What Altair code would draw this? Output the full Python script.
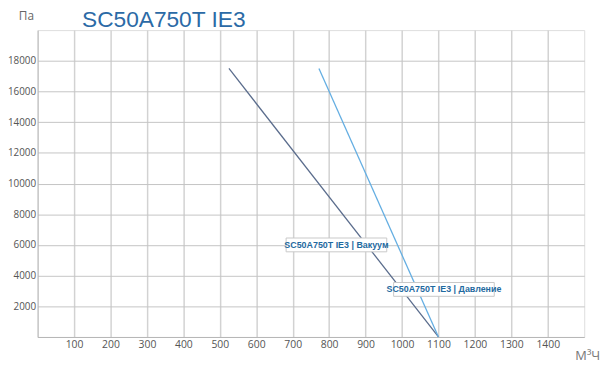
import altair as alt
import pandas as pd

# data
vac_x = [525, 1100]
vac_y = [17500, 0]
prs_x = [772, 1100]
prs_y = [17500, 0]
series_names = ["SC50A750T IE3 | Вакуум", "SC50A750T IE3 | Давление"]
label_x = [820, 1115]
label_y = [6000, 3100]
x_ticks = list(range(100, 1500, 100))
y_ticks = list(range(2000, 20000, 2000))
title_text = "SC50A750T IE3"
y_unit = "Па"
x_unit = "М³Ч"

colors = ["#5a6c8c", "#64aee2"]

df = pd.DataFrame(
    {"x": vac_x + prs_x,
     "y": vac_y + prs_y,
     "s": [series_names[0]] * len(vac_x) + [series_names[1]] * len(prs_x)}
)
lab = pd.DataFrame({"x": label_x, "y": label_y, "t": series_names})

W, H = 554, 311
xs = alt.Scale(domain=[0, 1500], nice=False, zero=False)
ys = alt.Scale(domain=[0, 20000], nice=False, zero=False)

xaxis = alt.Axis(values=x_ticks, title=None, ticks=False, grid=True, format="d",
                 gridColor="#d2d2d2", gridWidth=1.5, domainColor="#b5b5b5",
                 labelColor="#555555", labelFont="Open Sans", labelFontSize=10.5,
                 labelPadding=3, labelOverlap=False)
yaxis = alt.Axis(values=y_ticks, title=None, ticks=False, grid=True, format="d",
                 gridColor="#c4c4c4", gridWidth=1, domainColor="#b5b5b5",
                 labelColor="#555555", labelFont="Open Sans", labelFontSize=10,
                 labelPadding=2, labelOverlap=False)

lines = alt.Chart(df).mark_line(strokeWidth=1.3).encode(
    x=alt.X("x:Q", scale=xs, axis=xaxis),
    y=alt.Y("y:Q", scale=ys, axis=yaxis),
    color=alt.Color("s:N", scale=alt.Scale(domain=series_names, range=colors), legend=None),
)

boxes = alt.Chart(lab).mark_rect(fill="white", stroke="#c8c8c8", strokeWidth=1,
                                 width=102, height=14).encode(
    x=alt.X("x:Q", scale=xs, axis=xaxis), y=alt.Y("y:Q", scale=ys, axis=yaxis)
)
texts = alt.Chart(lab).mark_text(font="Liberation Sans", fontSize=9, fontWeight="bold",
                                 color="#1f6aa0").encode(
    x=alt.X("x:Q", scale=xs, axis=xaxis), y=alt.Y("y:Q", scale=ys, axis=yaxis), text="t:N"
)

title = alt.Chart(pd.DataFrame({"t": [title_text]})).mark_text(
    font="Liberation Sans", fontSize=23, color="#2b6aa6", align="left", baseline="alphabetic"
).encode(x=alt.value(45), y=alt.value(-3), text="t:N")

yu = alt.Chart(pd.DataFrame({"t": [y_unit]})).mark_text(
    font="Open Sans", fontSize=12, color="#666666", align="left", baseline="alphabetic"
).encode(x=alt.value(-19), y=alt.value(-10), text="t:N")

xu = alt.Chart(pd.DataFrame({"t": [x_unit]})).mark_text(
    font="Open Sans", fontSize=13, color="#777777", align="left", baseline="alphabetic"
).encode(x=alt.value(545), y=alt.value(H + 23), text="t:N")

chart = alt.layer(lines, boxes, texts, title, yu, xu).properties(
    width=W, height=H,
    autosize=alt.AutoSizeParams(type="none"),
    padding={"left": 30, "top": 20, "right": 18, "bottom": 27},
).configure_view(stroke="#c4c4c4", strokeWidth=1).configure_axis(
    labelOverlap=False
).configure(background="white")

chart.save("out.html", embed_options={"renderer": "svg", "actions": False})
